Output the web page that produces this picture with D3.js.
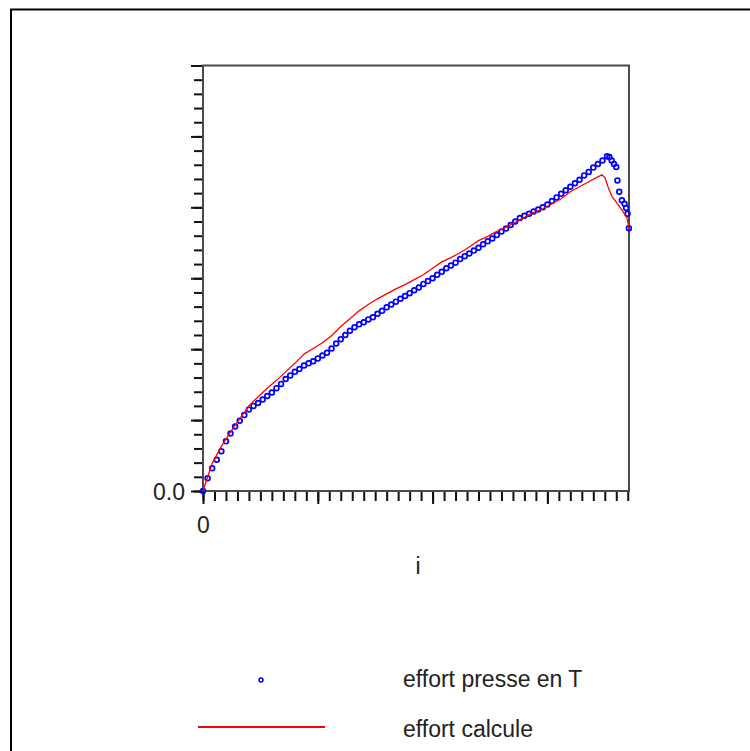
<!DOCTYPE html>
<html>
<head>
<meta charset="utf-8">
<script src="https://cdn.jsdelivr.net/npm/d3@7"></script>
<style>
  body { margin: 0; background: #fff; }
  svg { display: block; font-family: "Liberation Sans", Arial, sans-serif; }
</style>
</head>
<body>
<div id="chart"></div>
<script>
// measured load (blue markers), every 4 steps of i up to 348, then the drop at the end
const pressStep = 4;
const pressVal = [
  0, 1.8, 3.2, 4.4, 5.6, 7.0, 8.1, 9.1, 9.9, 10.7, 11.5, 12.0, 12.4, 12.9, 13.4, 13.9,
  14.5, 15.1, 15.8, 16.3, 16.8, 17.2, 17.7, 18.0, 18.3, 18.7, 19.1, 19.5, 20.1, 20.8,
  21.4, 22.0, 22.6, 23.1, 23.5, 23.8, 24.2, 24.5, 25.0, 25.4, 25.9, 26.3, 26.7, 27.1,
  27.5, 27.9, 28.3, 28.7, 29.2, 29.6, 30.0, 30.5, 30.9, 31.4, 31.8, 32.2, 32.7, 33.1,
  33.5, 33.9, 34.3, 34.8, 35.2, 35.6, 36.1, 36.6, 37.0, 37.5, 38.0, 38.5, 38.8, 39.1,
  39.4, 39.7, 40.0, 40.4, 40.9, 41.4, 41.9, 42.4, 42.9, 43.4, 43.9, 44.5, 45.0, 45.6,
  46.1, 46.6
];
const pressTailIdx = [352, 354, 356, 358, 360, 361, 362.6, 364.9, 367.2, 368.6, 369.8, 371];
const pressTailVal = [47.2, 47.1, 46.6, 46.1, 45.7, 43.8, 42.2, 41.0, 40.5, 39.9, 39.1, 37.05];

// computed load (red line), every 8 steps of i up to 344, then the drop
const calcStep = 8;
const calcVal = [
  0, 3.9, 6.3, 8.3, 10.2, 12.0, 13.3, 14.5, 15.6, 16.8, 18.0, 19.3, 20.1, 20.9, 21.9,
  23.2, 24.3, 25.4, 26.3, 27.1, 27.8, 28.5, 29.1, 29.8, 30.5, 31.4, 32.3, 32.9, 33.6,
  34.4, 35.3, 35.9, 36.6, 37.2, 37.9, 38.6, 39.3, 39.8, 40.5, 41.2, 42.2, 42.9, 43.6, 44.3
];
const calcTailIdx = [347.6, 350.2, 352.8, 356.3, 360.6, 365, 369.3, 371];
const calcTailVal = [44.6, 44.15, 42.9, 41.5, 40.6, 39.6, 38.5, 37.2];

const xMajor = [0, 100, 200, 300];
const yMajor = [0, 10, 20, 30, 40, 50, 60];
const legendLabels = ['effort presse en T', 'effort calcule'];

const press = pressVal.map((v, k) => [k * pressStep, v])
  .concat(pressTailIdx.map((i, k) => [i, pressTailVal[k]]));
const calc = calcVal.map((v, k) => [k * calcStep, v])
  .concat(calcTailIdx.map((i, k) => [i, calcTailVal[k]]));

const width = 750, height = 751;
const svg = d3.select('#chart').append('svg')
  .attr('width', width)
  .attr('height', height);

// outer frame (left and top edges only visible)
svg.append('path')
  .attr('d', `M11,${height} V9.5 H${width}`)
  .attr('fill', 'none')
  .attr('stroke', '#000')
  .attr('stroke-width', 2);

const x = d3.scaleLinear().domain([0, 371.1]).range([203, 629]);
const y = d3.scaleLinear().domain([0, 60]).range([491, 65.5]);

const fontSize = 23;
const tickColor = '#111';
const lineColor = '#4a4a4a';

function styleAxis(g) {
  g.select('.domain').remove();
  g.selectAll('.tick line').attr('stroke', tickColor).attr('stroke-width', 2);
  g.selectAll('.tick text')
    .attr('fill', '#222')
    .style('font-size', fontSize + 'px')
    .style('font-family', '"Liberation Sans", Arial, sans-serif');
}

// y minor + major ticks
svg.append('g')
  .attr('transform', `translate(${x(0)},0)`)
  .call(d3.axisLeft(y).tickValues(d3.range(0, 61, 2)).tickSize(9).tickFormat(''))
  .call(styleAxis);
svg.append('g')
  .attr('transform', `translate(${x(0)},0)`)
  .call(d3.axisLeft(y).tickValues(yMajor).tickSize(12).tickPadding(6)
    .tickFormat(d => d === 0 ? '0.0' : ''))
  .call(styleAxis)
  .call(g => g.selectAll('.tick text').attr('dy', '0.36em'));

// x minor + major ticks
svg.append('g')
  .attr('transform', `translate(0,${y(0)})`)
  .call(d3.axisBottom(x).tickValues(d3.range(0, 371, 10)).tickSize(10).tickFormat(''))
  .call(styleAxis);
svg.append('g')
  .attr('transform', `translate(0,${y(0)})`)
  .call(d3.axisBottom(x).tickValues(xMajor).tickSize(13).tickPadding(13)
    .tickFormat(d => d === 0 ? '0' : ''))
  .call(styleAxis);

// box lines
svg.append('path')
  .attr('d', `M${x(0)},${y(0)} V${y(60)} H${x.range()[1]} V${y(0)} H${x(0)}`)
  .attr('fill', 'none')
  .attr('stroke', lineColor)
  .attr('stroke-width', 2);

// axis title
svg.append('text')
  .attr('x', 418)
  .attr('y', 574)
  .attr('text-anchor', 'middle')
  .attr('fill', '#222')
  .style('font-size', fontSize + 'px')
  .text('i');

// measured points
svg.append('g')
  .selectAll('circle')
  .data(press)
  .join('circle')
  .attr('cx', d => x(d[0]))
  .attr('cy', d => y(d[1]))
  .attr('r', 2.4)
  .attr('fill', 'none')
  .attr('stroke', '#0000ff')
  .attr('stroke-width', 1.7);

// computed line
const line = d3.line().x(d => x(d[0])).y(d => y(d[1]));
svg.append('path')
  .datum(calc)
  .attr('d', line)
  .attr('fill', 'none')
  .attr('stroke', '#ff0000')
  .attr('stroke-width', 1.3);

// legend
const legend = svg.append('g');
legend.append('circle')
  .attr('cx', 261).attr('cy', 680).attr('r', 2)
  .attr('fill', 'none').attr('stroke', '#0000ff').attr('stroke-width', 1.5);
legend.append('line')
  .attr('x1', 198).attr('x2', 325).attr('y1', 727).attr('y2', 727)
  .attr('stroke', '#ff0000').attr('stroke-width', 2);
legend.selectAll('text')
  .data(legendLabels)
  .join('text')
  .attr('x', 403)
  .attr('y', (d, i) => 687 + i * 50)
  .attr('fill', '#222')
  .style('font-size', fontSize + 'px')
  .text(d => d);
</script>
</body>
</html>
